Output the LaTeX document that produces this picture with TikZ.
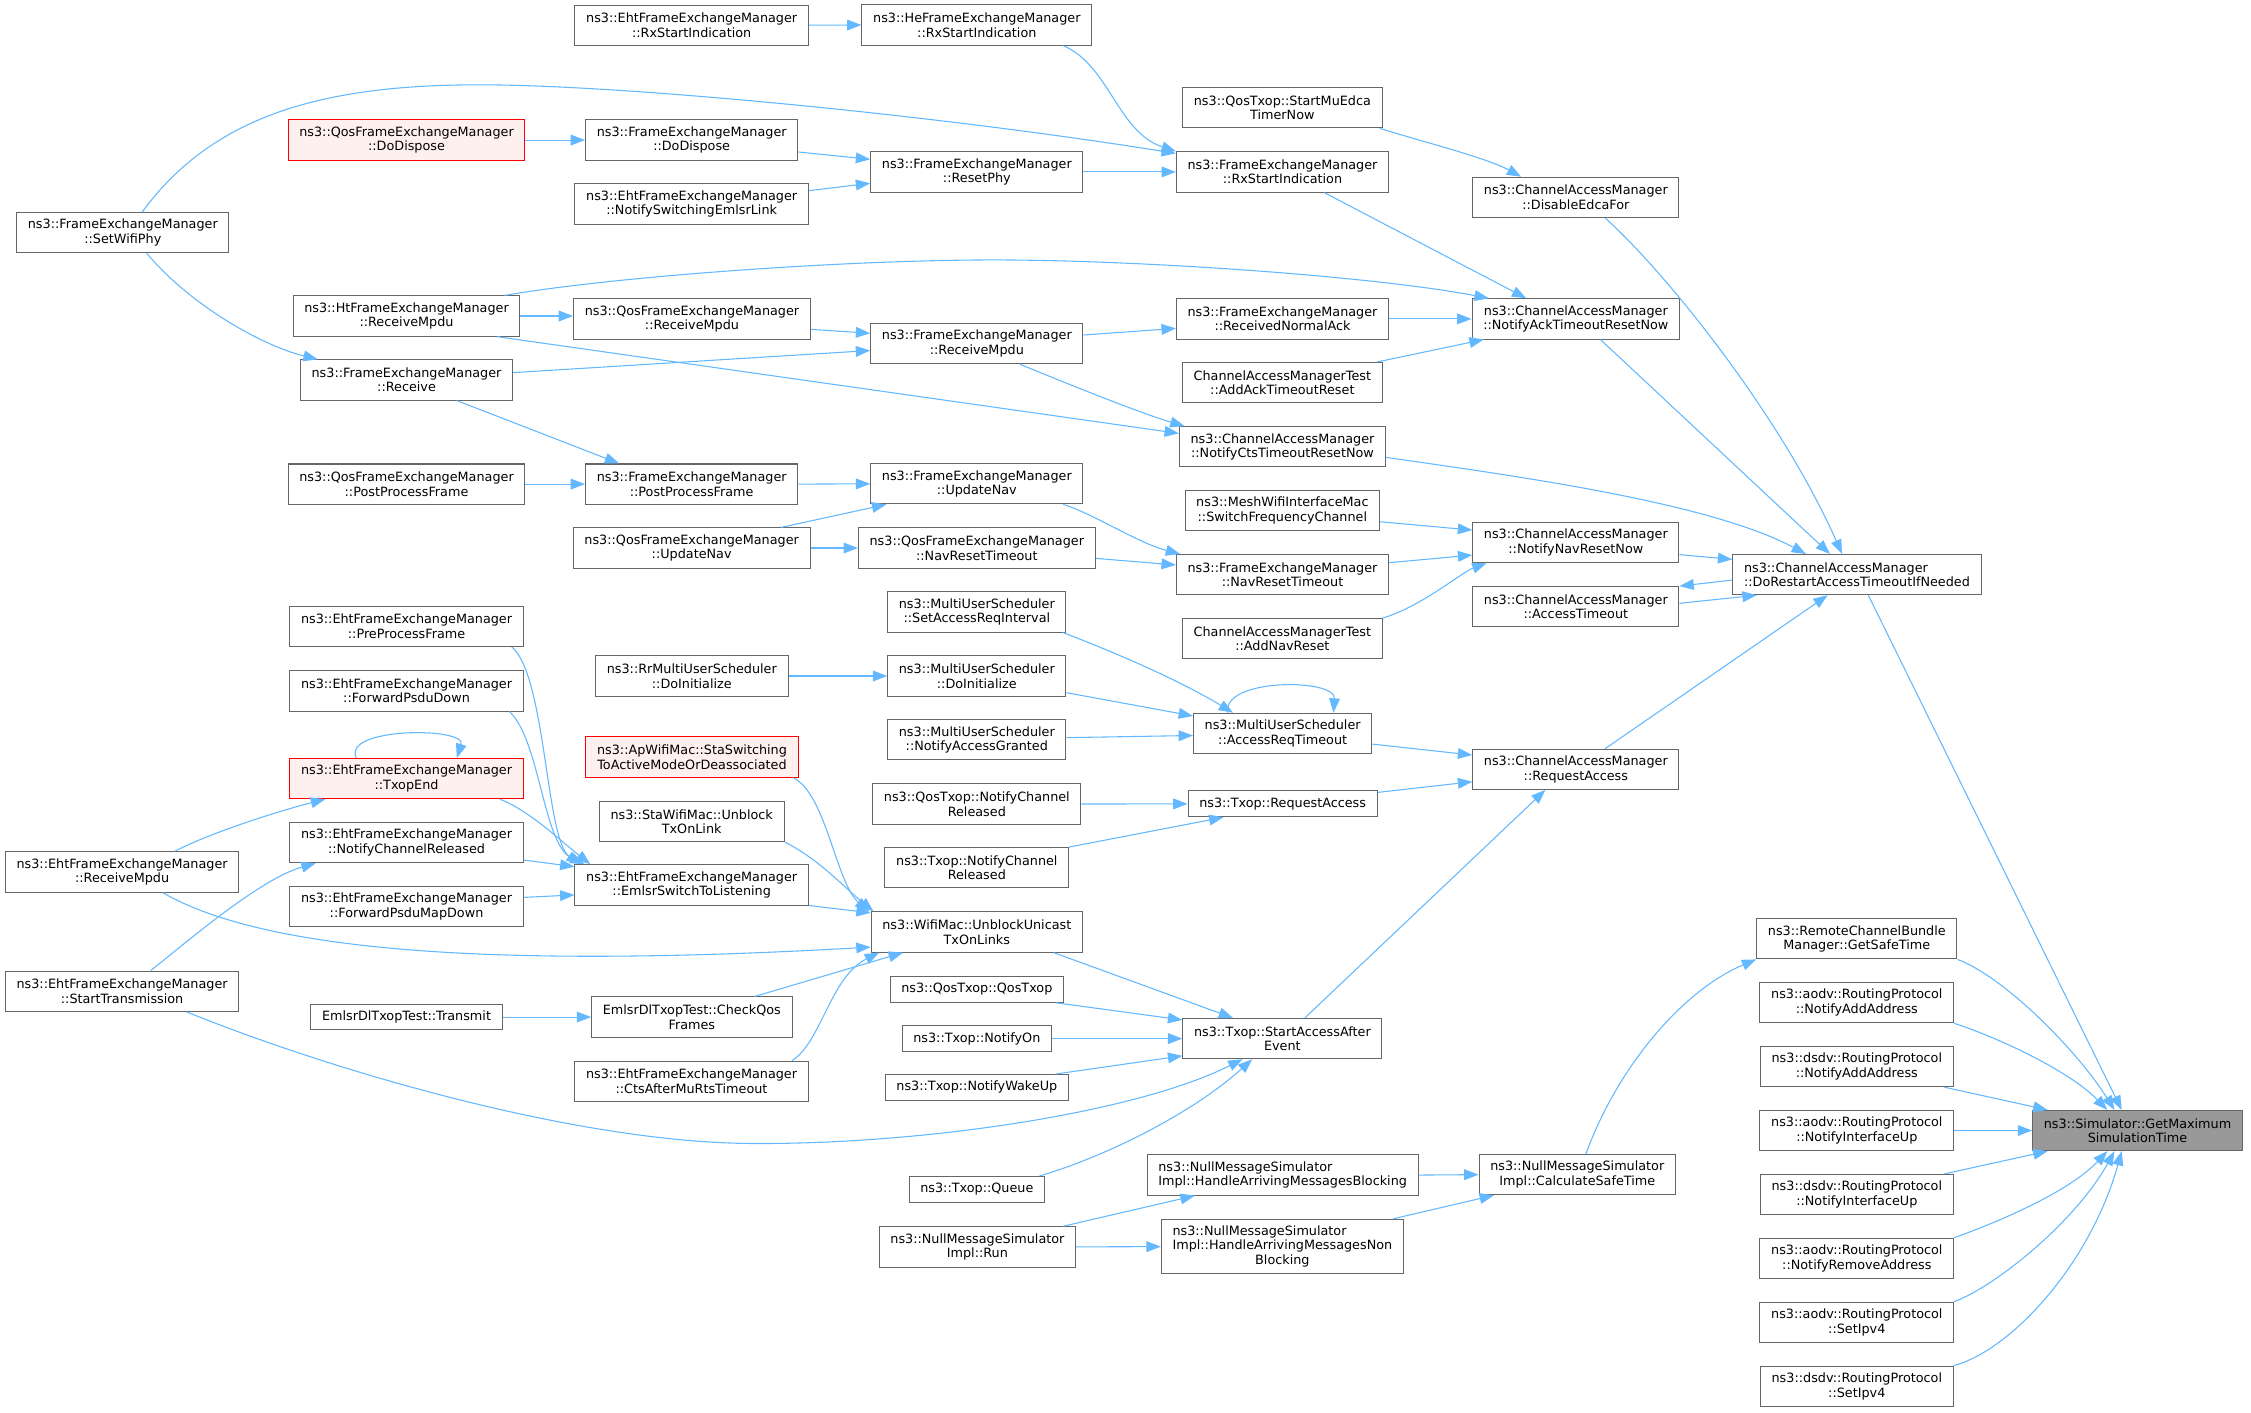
\documentclass[tikz,border=0pt]{standalone}
\usepackage{fontspec}
\setmainfont{DejaVu Sans}
\usetikzlibrary{positioning,arrows.meta}
\definecolor{callblue}{HTML}{63B8FF}
\definecolor{boxgray}{HTML}{666666}
\definecolor{rootgray}{HTML}{999999}
\definecolor{redfill}{HTML}{FFF0F0}
\tikzset{
  fn/.style={draw=boxgray,fill=white,line width=0.7pt,inner xsep=7.8pt,inner ysep=1pt,minimum height=28pt,align=center,font=\fontsize{8.9}{10.1}\selectfont},
  fn1/.style={fn,minimum height=18pt},
  fnred/.style={fn,draw=red,fill=redfill},
  fnroot/.style={fn,fill=rootgray},
  fnleft/.style={fn,align=left},
  call/.style={draw=callblue,line width=0.75pt,-{Triangle[length=10pt,width=7.5pt]}}
}
\begin{document}
\begin{tikzpicture}[x=1pt,y=-1pt]
\useasboundingbox (0,0) rectangle (1567,983);
%Callers, left
\node[fn](SWP) at (85.5,162){ns3::FrameExchangeManager\\::SetWifiPhy};
\node[fn](EhtRM) at (85,607){ns3::EhtFrameExchangeManager\\::ReceiveMpdu};
\node[fn](EhtST) at (85,690){ns3::EhtFrameExchangeManager\\::StartTransmission};
\node[fnred](QDD) at (283,97.5){ns3::QosFrameExchangeManager\\::DoDispose};
\node[fn](HtRM) at (283,220){ns3::HtFrameExchangeManager\\::ReceiveMpdu};
\node[fn](RCV) at (283,264.5){ns3::FrameExchangeManager\\::Receive};
\node[fn](QPPF) at (283,337){ns3::QosFrameExchangeManager\\::PostProcessFrame};
\node[fn](PreP) at (283,436){ns3::EhtFrameExchangeManager\\::PreProcessFrame};
\node[fn](FPD) at (283,481){ns3::EhtFrameExchangeManager\\::ForwardPsduDown};
\node[fnred](TXE) at (283,542){ns3::EhtFrameExchangeManager\\::TxopEnd};
\node[fn](NCR) at (283,586.6){ns3::EhtFrameExchangeManager\\::NotifyChannelReleased};
\node[fn](FPMD) at (283,631){ns3::EhtFrameExchangeManager\\::ForwardPsduMapDown};
\node[fn1](TRN) at (283,708){EmlsrDlTxopTest::Transmit};
%Column 3
\node[fn](EhtRX) at (481.5,17.5){ns3::EhtFrameExchangeManager\\::RxStartIndication};
\node[fn](FDD) at (481.5,97.5){ns3::FrameExchangeManager\\::DoDispose};
\node[fn](NSEL) at (481.5,142){ns3::EhtFrameExchangeManager\\::NotifySwitchingEmlsrLink};
\node[fn](QRM) at (481.7,222){ns3::QosFrameExchangeManager\\::ReceiveMpdu};
\node[fn](FPPF) at (481.5,337){ns3::FrameExchangeManager\\::PostProcessFrame};
\node[fn](QUN) at (481.5,381.5){ns3::QosFrameExchangeManager\\::UpdateNav};
\node[fn](RrDI) at (481.6,470.6){ns3::RrMultiUserScheduler\\::DoInitialize};
\node[fnred](ApSw) at (481.7,527){ns3::ApWifiMac::StaSwitching\\ToActiveModeOrDeassociated};
\node[fn](StaUb) at (481.5,572){ns3::StaWifiMac::Unblock\\TxOnLink};
\node[fn](EST) at (481.5,616){ns3::EhtFrameExchangeManager\\::EmlsrSwitchToListening};
\node[fn](CQF) at (481.6,708){EmlsrDlTxopTest::CheckQos\\Frames};
\node[fn](CAMR) at (481.4,752.7){ns3::EhtFrameExchangeManager\\::CtsAfterMuRtsTimeout};
%Column 4
\node[fn](HeRX) at (680,17.4){ns3::HeFrameExchangeManager\\::RxStartIndication};
\node[fn](RPhy) at (680,119.7){ns3::FrameExchangeManager\\::ResetPhy};
\node[fn](FRM) at (680,239.2){ns3::FrameExchangeManager\\::ReceiveMpdu};
\node[fn](FUN) at (680,336.8){ns3::FrameExchangeManager\\::UpdateNav};
\node[fn](QNRT) at (680,381.5){ns3::QosFrameExchangeManager\\::NavResetTimeout};
\node[fn](SARI) at (680,426){ns3::MultiUserScheduler\\::SetAccessReqInterval};
\node[fn](MUDI) at (680,470.6){ns3::MultiUserScheduler\\::DoInitialize};
\node[fn](NAG) at (680,515){ns3::MultiUserScheduler\\::NotifyAccessGranted};
\node[fn](QNCR) at (680,559.7){ns3::QosTxop::NotifyChannel\\Released};
\node[fn](TNCR) at (680,604){ns3::Txop::NotifyChannel\\Released};
\node[fn](UUT) at (680,648.8){ns3::WifiMac::UnblockUnicast\\TxOnLinks};
\node[fn1](QTX) at (680,688.7){ns3::QosTxop::QosTxop};
\node[fn1](TNO) at (680,723){ns3::Txop::NotifyOn};
\node[fn1](TNW) at (680,757){ns3::Txop::NotifyWakeUp};
\node[fn1](TQ) at (680,828){ns3::Txop::Queue};
\node[fn](NRun) at (680.4,868){ns3::NullMessageSimulator\\Impl::Run};
%Column 5
\node[fn](MuEdca) at (892.7,75){ns3::QosTxop::StartMuEdca\\TimerNow};
\node[fn](FRX) at (892.8,119.7){ns3::FrameExchangeManager\\::RxStartIndication};
\node[fn](RNA) at (892.8,222){ns3::FrameExchangeManager\\::ReceivedNormalAck};
\node[fn](AATR) at (892.7,266.4){ChannelAccessManagerTest\\::AddAckTimeoutReset};
\node[fn](NCTS) at (892.8,311){ns3::ChannelAccessManager\\::NotifyCtsTimeoutResetNow};
\node[fn](Mesh) at (892.7,355.5){ns3::MeshWifiInterfaceMac\\::SwitchFrequencyChannel};
\node[fn](FNRT) at (892.8,400){ns3::FrameExchangeManager\\::NavResetTimeout};
\node[fn](ANR) at (892.7,444.6){ChannelAccessManagerTest\\::AddNavReset};
\node[fn](ART) at (892.9,510.5){ns3::MultiUserScheduler\\::AccessReqTimeout};
\node[fn1](TRA) at (892.9,559.6){ns3::Txop::RequestAccess};
\node[fn](SAAE) at (892.7,723){ns3::Txop::StartAccessAfter\\Event};
\node[fnleft](HAMB) at (892.9,818){ns3::NullMessageSimulator\\Impl::HandleArrivingMessagesBlocking};
\node[fn,minimum height=38pt](HAMN) at (892.7,867.8){\begin{tabular}{@{}l@{}}ns3::NullMessageSimulator\\Impl::HandleArrivingMessagesNon\\\multicolumn{1}{@{}c@{}}{Blocking}\end{tabular}};
%Column 6
\node[fn](DEF) at (1097,137.4){ns3::ChannelAccessManager\\::DisableEdcaFor};
\node[fn](NATR) at (1097,222){ns3::ChannelAccessManager\\::NotifyAckTimeoutResetNow};
\node[fn](NNRN) at (1097,377.8){ns3::ChannelAccessManager\\::NotifyNavResetNow};
\node[fn](CAT) at (1097,422.3){ns3::ChannelAccessManager\\::AccessTimeout};
\node[fn](CRA) at (1097,535.5){ns3::ChannelAccessManager\\::RequestAccess};
\node[fn](CST) at (1098,817.7){ns3::NullMessageSimulator\\Impl::CalculateSafeTime};
%Column 7
\node[fnleft](DRAT) at (1292.7,400){ns3::ChannelAccessManager\\::DoRestartAccessTimeoutIfNeeded};
\node[fn](GST) at (1292.6,653.5){ns3::RemoteChannelBundle\\Manager::GetSafeTime};
\node[below=15.8pt of GST, fn](aAdd){ns3::aodv::RoutingProtocol\\::NotifyAddAddress};
\node[below=15.8pt of aAdd, fn](dAdd){ns3::dsdv::RoutingProtocol\\::NotifyAddAddress};
\node[below=15.8pt of dAdd, fn](aIfUp){ns3::aodv::RoutingProtocol\\::NotifyInterfaceUp};
\node[below=15.8pt of aIfUp, fn](dIfUp){ns3::dsdv::RoutingProtocol\\::NotifyInterfaceUp};
\node[below=15.8pt of dIfUp, fn](aRem){ns3::aodv::RoutingProtocol\\::NotifyRemoveAddress};
\node[below=15.8pt of aRem, fn](aIpv4){ns3::aodv::RoutingProtocol\\::SetIpv4};
\node[below=15.8pt of aIpv4, fn](dIpv4){ns3::dsdv::RoutingProtocol\\::SetIpv4};
%Root
\node[fnroot](GMST) at (1488,787){ns3::Simulator::GetMaximum\\SimulationTime};

% Arrows, top
\draw[call] (EhtRX.east) -- (HeRX.west);
\draw[call] ([xshift=60pt]HeRX.south) .. controls (772,45) and (778,92) .. (FRX.north west);
\draw[call] ([xshift=13.4pt]SWP.north) .. controls (150,78) and (230,57) .. (349.5,59.2) .. controls (450,61) and (650,80) .. ([yshift=-1.4pt]FRX.north west);
\draw[call] (QDD.east) -- (FDD.west);
\draw[call] ([yshift=-8.3pt]FDD.east) -- ([yshift=8.8pt]RPhy.west);
\draw[call] ([yshift=9.3pt]NSEL.east) -- ([yshift=-7.9pt]RPhy.west);
\draw[call] (RPhy.east) -- (FRX.west);
\draw[call] ([xshift=-2pt]MuEdca.south east) .. controls (995,100) and (1035,110) .. ([xshift=-38pt]DEF.north);
\draw[call] ([xshift=29pt]FRX.south) -- ([xshift=-34.5pt]NATR.north);
\draw[call] ([xshift=16.7pt]SWP.south) .. controls (130,210) and (180,240) .. ([xshift=12.4pt]RCV.north west);
\draw[call] ([xshift=68.3pt]HtRM.north) .. controls (430,192) and (600,180) .. (705,181) .. controls (810,182) and (960,193) .. ([xshift=12pt]NATR.north west);
\draw[call] (HtRM.east) -- (HtRM.east -| QRM.west);
\draw[call] ([xshift=63pt]HtRM.south) -- ([yshift=9.3pt]NCTS.west);
\draw[call] ([yshift=-7.3pt]QRM.east) -- ([yshift=7.2pt]FRM.west);
\draw[call] ([yshift=5.1pt]RCV.east) -- ([yshift=-4.8pt]FRM.west);
\draw[call] ([yshift=6pt]FRM.east) -- ([yshift=-6.6pt]RNA.west);
\draw[call] ([xshift=30pt]FRM.south) .. controls (745,268) and (795,288) .. ([xshift=4pt]NCTS.north west);
\draw[call] (RNA.east) -- (NATR.west);
\draw[call] ([xshift=65.6pt]AATR.north) -- ([xshift=8.5pt]NATR.south west);
\draw[call] ([xshift=35pt]RCV.south) -- ([xshift=-50.5pt]FPPF.north);
\draw[call] (QPPF.east) -- (FPPF.west);
\draw[call] (FPPF.east) -- (FUN.west);
\draw[call] ([xshift=62.2pt]QUN.north) -- ([xshift=-63pt]FUN.south);
\draw[call] (QUN.east) -- (QNRT.west);
\draw[call] ([xshift=60.2pt]FUN.south) .. controls (762,358) and (792,378) .. ([xshift=3pt]FNRT.north west);
\draw[call] ([yshift=-7.2pt]QNRT.east) -- ([yshift=6.7pt]FNRT.west);
\draw[call] ([yshift=-7.7pt]Mesh.east) -- ([yshift=8.8pt]NNRN.west);
\draw[call] ([yshift=8.3pt]FNRT.east) -- ([yshift=-8.6pt]NNRN.west);
\draw[call] (ANR.north east) .. controls (990,422) and (1018,398) .. ([xshift=10pt]NNRN.south west);
\draw[call] ([yshift=-8.3pt]NNRN.east) -- ([yshift=10.6pt]DRAT.west);
\draw[call] ([yshift=-3.8pt]DRAT.west) -- ([yshift=14.3pt]CAT.east);
\draw[call] ([yshift=2.3pt]CAT.east) -- ([xshift=17pt]DRAT.south west);
\draw[call] ([xshift=20.4pt]DEF.south) .. controls (1160,190) and (1240,290) .. ([xshift=-10.4pt]DRAT.north);
\draw[call] ([xshift=17.1pt]NATR.south) -- ([xshift=-18.8pt]DRAT.north);
\draw[call] ([yshift=-7.4pt]NCTS.east) .. controls (1060,332) and (1190,350) .. ([xshift=-35.5pt]DRAT.north);
\draw[call] ([xshift=20.4pt]CRA.north) -- ([xshift=-20.4pt]DRAT.south);
\draw[call] ([xshift=7.9pt]DRAT.south) -- ([xshift=-11pt]GMST.north);
% Arrows, scheduler and txop
\draw[call] (RrDI.east) -- (MUDI.west);
\draw[call] ([xshift=60pt]SARI.south) .. controls (765,450) and (815,470) .. ([xshift=-34.5pt]ART.north);
\draw[call] ([yshift=-11.6pt]MUDI.east) -- ([yshift=12.1pt]ART.west);
\draw[call] ([yshift=1.5pt]NAG.east) -- ([yshift=-1.5pt]ART.west);
\draw[call] ([xshift=-38pt]ART.north) .. controls (850,472) and (930,472) .. ([xshift=35.4pt]ART.north);
\draw[call] ([yshift=-7.5pt]ART.east) -- ([yshift=9.9pt]CRA.west);
\draw[call] (QNCR.east) -- (TRA.west);
\draw[call] (TNCR.north east) -- ([xshift=25pt]TRA.south west);
\draw[call] ([yshift=8pt]TRA.east) -- ([yshift=-8.7pt]CRA.west);
\draw[call] ([xshift=15.6pt]SAAE.north) -- ([xshift=-21.2pt]CRA.south);
% Arrows, EMLSR
\draw[call] ([xshift=73.3pt]PreP.south) .. controls (380,470) and (380,585) .. ([xshift=4.4pt]EST.north west);
\draw[call] ([xshift=71.6pt]FPD.south) .. controls (376,515) and (378,588) .. ([xshift=7pt]EST.north west);
\draw[call] ([xshift=-35pt]TXE.north) .. controls (238,506) and (325,506) .. ([xshift=35pt]TXE.north);
\draw[call] ([xshift=65pt]TXE.south) .. controls (368,564) and (390,585) .. ([xshift=11pt]EST.north west);
\draw[call] ([yshift=-12.1pt]NCR.east) -- ([yshift=12.7pt]EST.west);
\draw[call] ([yshift=6.3pt]FPMD.east) -- ([yshift=-7pt]EST.west);
\draw[call] ([xshift=36.5pt]EhtRM.north) .. controls (150,578) and (200,563) .. ([xshift=-56.6pt]TXE.south);
\draw[call] ([xshift=19.9pt]EhtST.north) .. controls (125,660) and (180,612) .. ([xshift=-63.2pt]NCR.south);
\draw[call] ([xshift=28.2pt]EhtRM.south) .. controls (180,660) and (330,675) .. ([yshift=-10.5pt]UUT.west);
\draw[call] (EST.south east) -- ([yshift=-1pt]UUT.north west);
\draw[call] ([xshift=70.3pt]ApSw.south) .. controls (575,552) and (582,615) .. ([xshift=-1pt]UUT.north west);
\draw[call] ([xshift=65pt]StaUb.south) .. controls (570,598) and (588,618) .. ([xshift=2pt]UUT.north west);
\draw[call] ([xshift=43.8pt]CQF.north) -- ([xshift=-51.4pt]UUT.south);
\draw[call] ([xshift=70pt]CAMR.north) .. controls (572,725) and (578,680) .. ([xshift=-68pt]UUT.south);
\draw[call] (TRN.east) -- (CQF.west);
%% Arrows, StartAccessAfterEvent
\draw[call] ([xshift=53.5pt]UUT.south) -- ([xshift=-34.3pt]SAAE.north);
\draw[call] ([xshift=55pt]QTX.south) -- ([yshift=13pt]SAAE.west);
\draw[call] (TNO.east) -- (SAAE.west);
\draw[call] ([xshift=55pt]TNW.north) -- ([yshift=-12pt]SAAE.west);
\draw[call] ([xshift=44.8pt]EhtST.south) .. controls (230,745) and (400,795) .. (522,796) .. controls (640,797) and (790,775) .. ([xshift=-27.7pt]SAAE.south);
\draw[call] ([xshift=43.6pt]TQ.north) .. controls (770,805) and (830,775) .. ([xshift=-21pt]SAAE.south);
%% Arrows, null message simulator
\draw[call] (HAMB.east) -- (CST.west);
\draw[call] ([xshift=59.6pt]NRun.north) -- ([xshift=-61.2pt]HAMB.south);
\draw[call] (NRun.east) -- (HAMN.west);
\draw[call] ([xshift=77.1pt]HAMN.north) -- ([xshift=-58pt]CST.south);
\draw[call] ([xshift=6pt]CST.north) .. controls (1125,745) and (1170,690) .. (GST.south west);
%% Arrows, root
\draw[call] (GST.south east) .. controls (1395,680) and (1445,730) .. ([xshift=-16pt]GMST.north);
\draw[call] (aAdd.south east) .. controls (1390,722) and (1440,745) .. ([xshift=-21pt]GMST.north);
\draw[call] ([xshift=61pt]dAdd.south) -- ([xshift=-62.6pt]GMST.north);
\draw[call] (aIfUp.east) -- (GMST.west);
\draw[call] ([xshift=61pt]dIfUp.north) -- ([xshift=-62.6pt]GMST.south);
\draw[call] (aRem.north east) .. controls (1390,851) and (1440,830) .. ([xshift=-21pt]GMST.south);
\draw[call] (aIpv4.north east) .. controls (1390,895) and (1445,850) .. ([xshift=-16pt]GMST.south);
\draw[call] (dIpv4.north east) .. controls (1400,940) and (1455,880) .. ([xshift=-11pt]GMST.south);
\end{tikzpicture}
\end{document}
